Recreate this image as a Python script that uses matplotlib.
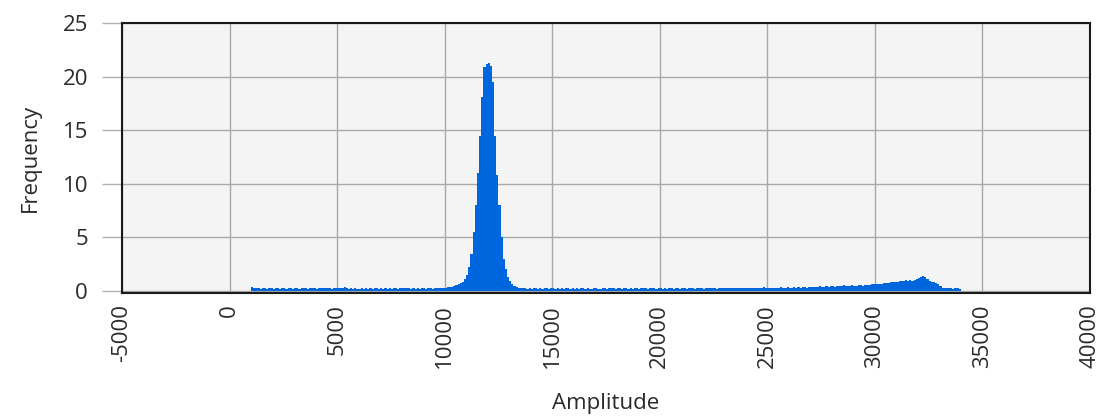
"""Amplitude histogram."""

import matplotlib

matplotlib.use("Agg", force=True)
import matplotlib.pyplot as plt
import numpy as np

# histogram bins: start amplitude and width, counts per bin
bin_start = 1000
bin_width = 100
counts = [
    0.35, 0.3, 0.22, 0.25, 0.2, 0.22, 0.25, 0.2, 0.22, 0.25,
    0.2, 0.25, 0.22, 0.2, 0.28, 0.22, 0.2, 0.25, 0.22, 0.2,
    0.25, 0.22, 0.2, 0.3, 0.22, 0.25, 0.2, 0.3, 0.22, 0.25,
    0.2, 0.28, 0.25, 0.3, 0.22, 0.3, 0.25, 0.2, 0.28, 0.3,
    0.25, 0.22, 0.3, 0.35, 0.22, 0.2, 0.25, 0.2, 0.22, 0.2,
    0.2, 0.22, 0.2, 0.25, 0.2, 0.22, 0.2, 0.25, 0.22, 0.2,
    0.22, 0.2, 0.25, 0.2, 0.22, 0.2, 0.25, 0.22, 0.2, 0.28,
    0.25, 0.22, 0.3, 0.22, 0.2, 0.25, 0.2, 0.22, 0.2, 0.25,
    0.22, 0.2, 0.25, 0.22, 0.2, 0.25, 0.28, 0.22, 0.25, 0.28,
    0.3, 0.32, 0.35, 0.4, 0.45, 0.5, 0.6, 0.7, 0.8, 1.1,
    1.5, 2.2, 3.4, 5.5, 8.0, 11.0, 14.5, 18.1, 20.9, 21.2,
    21.3, 21.0, 19.5, 14.5, 10.8, 8.0, 5.0, 3.0, 2.0, 1.3,
    0.9, 0.6, 0.45, 0.35, 0.28, 0.25, 0.22, 0.25, 0.2, 0.22,
    0.2, 0.25, 0.22, 0.2, 0.22, 0.2, 0.25, 0.22, 0.2, 0.22,
    0.22, 0.2, 0.25, 0.2, 0.22, 0.2, 0.22, 0.25, 0.2, 0.22,
    0.2, 0.22, 0.2, 0.25, 0.22, 0.2, 0.22, 0.2, 0.2, 0.22,
    0.22, 0.2, 0.2, 0.25, 0.22, 0.2, 0.22, 0.28, 0.22, 0.2,
    0.25, 0.22, 0.2, 0.22, 0.25, 0.2, 0.22, 0.2, 0.25, 0.22,
    0.2, 0.22, 0.25, 0.22, 0.2, 0.28, 0.22, 0.25, 0.2, 0.22,
    0.25, 0.2, 0.22, 0.2, 0.25, 0.22, 0.2, 0.25, 0.22, 0.2,
    0.22, 0.25, 0.2, 0.22, 0.28, 0.22, 0.2, 0.22, 0.25, 0.22,
    0.2, 0.25, 0.22, 0.28, 0.22, 0.25, 0.2, 0.22, 0.3, 0.25,
    0.22, 0.25, 0.28, 0.22, 0.25, 0.22, 0.3, 0.25, 0.22, 0.28,
    0.25, 0.22, 0.28, 0.25, 0.3, 0.22, 0.25, 0.28, 0.32, 0.25,
    0.28, 0.25, 0.3, 0.28, 0.25, 0.3, 0.32, 0.28, 0.3, 0.35,
    0.3, 0.28, 0.32, 0.3, 0.35, 0.3, 0.32, 0.35, 0.3, 0.38,
    0.35, 0.32, 0.38, 0.35, 0.42, 0.38, 0.35, 0.45, 0.4, 0.42,
    0.45, 0.4, 0.48, 0.42, 0.45, 0.5, 0.45, 0.48, 0.42, 0.5,
    0.48, 0.45, 0.5, 0.52, 0.48, 0.55, 0.5, 0.58, 0.6, 0.65,
    0.62, 0.6, 0.68, 0.65, 0.72, 0.7, 0.75, 0.8, 0.78, 0.85,
    0.82, 0.88, 0.95, 0.9, 0.98, 0.95, 1.0, 0.95, 1.05, 1.1,
    1.2, 1.3, 1.38, 1.3, 1.15, 0.95, 0.85, 0.8, 0.72, 0.6,
    0.45, 0.3, 0.25, 0.22, 0.25, 0.22, 0.2, 0.22, 0.25, 0.2,
]
x_ticks = [-5000, 0, 5000, 10000, 15000, 20000, 25000, 30000, 35000, 40000]
y_ticks = [0, 5, 10, 15, 20, 25]

plt.rcParams["font.family"] = ["Open Sans", "DejaVu Sans"]

edges = bin_start + bin_width * np.arange(len(counts) + 1)

fig = plt.figure(figsize=(11.04, 4.17), dpi=100)
ax = fig.add_axes([0.1105, 0.2974, 0.8768, 0.6474])
ax.set_facecolor("#f4f4f4")

ax.stairs(counts, edges, fill=True, color="#0066dd", baseline=0,
          linewidth=0, zorder=3)

ax.set_xlim(-5000, 40000)
ax.set_ylim(-0.2, 25)
ax.set_xticks(x_ticks)
ax.set_yticks(y_ticks)
ax.set_xticklabels([str(t) for t in x_ticks], rotation=90, fontsize=16, color="#2a2a2a")
ax.set_yticklabels([str(t) for t in y_ticks], fontsize=16, color="#2a2a2a")
ax.tick_params(axis="x", length=0, pad=8)
ax.tick_params(axis="y", length=14.4, width=1, color="#b0b0b0", pad=10)
ax.grid(True, color="#a8a8a8", linewidth=1, zorder=1)
ax.set_axisbelow(True)
for sp in ax.spines.values():
    sp.set_linewidth(1.5)
    sp.set_color("#1a1a1a")

ax.set_xlabel("Amplitude", fontsize=16, color="#2a2a2a", labelpad=18)
ax.set_ylabel("Frequency", fontsize=16, color="#2a2a2a", labelpad=16)

fig.savefig("out.png", dpi=100)
plt.close(fig)
